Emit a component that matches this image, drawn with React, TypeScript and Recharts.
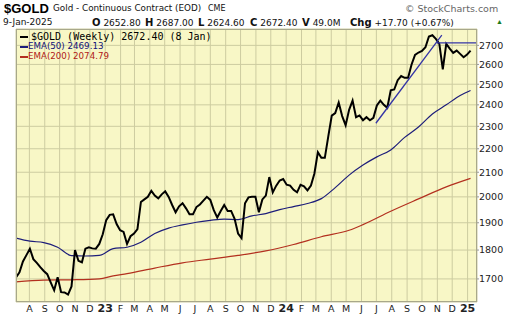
import { CartesianGrid, Line, LineChart, ReferenceLine, XAxis, YAxis } from "recharts";

const DAY = 86400000;
const START = Date.UTC(2022, 6, 5);
const END = Date.UTC(2025, 0, 20);

// weekly closes, one per week from START
const GOLD_WEEKLY = [
  1705, 1722, 1760, 1782, 1805, 1768, 1755, 1740, 1727, 1716,
  1688, 1662, 1706, 1656, 1655, 1648, 1675, 1800, 1762, 1757,
  1805, 1810, 1806, 1805, 1822, 1857, 1910, 1930, 1932, 1895,
  1872, 1866, 1822, 1850, 1860, 1876, 1980, 1990, 2000, 2024,
  2005, 1994, 2010, 2022, 2000, 1968, 1940, 1963, 1975, 1955,
  1932, 1932, 1960, 1970, 1985, 2000, 1988, 1948, 1920, 1945,
  1968, 1945, 1945, 1915, 1860, 1843, 1975, 1998, 2000, 2000,
  1940, 1990, 2005, 2080, 2018, 2045, 2066, 2072, 2049, 2045,
  2028, 2018, 2048, 2042, 2026, 2045, 2095, 2185, 2161, 2161,
  2255, 2349, 2361, 2411, 2347, 2305, 2376, 2420, 2342, 2350,
  2328, 2342, 2328, 2339, 2397, 2420, 2400, 2386, 2470, 2474,
  2520, 2541, 2532, 2532, 2600, 2650, 2662, 2670, 2690, 2748,
  2755, 2735, 2708, 2575, 2708, 2683, 2660, 2672, 2655, 2637,
  2651, 2672.4,
];

const EMA50_DATES = [
  "2022-07-05", "2022-08-02", "2022-08-30", "2022-09-27", "2022-10-25", "2022-11-22",
  "2022-12-20", "2023-01-17", "2023-02-14", "2023-03-14", "2023-04-11", "2023-05-09",
  "2023-06-06", "2023-07-04", "2023-08-01", "2023-08-29", "2023-09-26", "2023-10-24",
  "2023-11-21", "2023-12-19", "2024-01-16", "2024-02-13", "2024-03-12", "2024-04-09",
  "2024-05-07", "2024-06-04", "2024-07-02", "2024-07-30", "2024-08-27", "2024-09-24",
  "2024-10-22", "2024-11-19", "2024-12-17", "2025-01-07",
];
const EMA50 = [
  1843, 1832, 1827, 1810, 1780, 1779,
  1781, 1805, 1810, 1828, 1860, 1880,
  1892, 1902, 1909, 1914, 1912, 1926,
  1935, 1950, 1962, 1974, 1993, 2037,
  2088, 2130, 2165, 2195, 2250, 2297,
  2357, 2400, 2445, 2469.13,
];

const EMA200_DATES = [
  "2022-07-05", "2022-08-30", "2022-10-25", "2022-12-20", "2023-01-17", "2023-02-14",
  "2023-04-11", "2023-06-06", "2023-08-01", "2023-09-26", "2023-11-21", "2024-01-16",
  "2024-03-12", "2024-05-07", "2024-06-04", "2024-07-30", "2024-09-24", "2024-11-19",
  "2025-01-07",
];
const EMA200 = [
  1690, 1696, 1697, 1700, 1710, 1718,
  1737, 1755, 1768, 1781, 1797, 1820,
  1848, 1872, 1893, 1944, 1992, 2040,
  2074.79,
];

const TREND_DATES = ["2024-06-30", "2024-11-10"];
const TREND_PRICES = [2314, 2755];
const RESIST_FROM = "2024-10-31";
const RESIST_PRICE = 2713;

const Y_TICKS = [1700, 1800, 1900, 2000, 2100, 2200, 2300, 2400, 2500, 2600, 2700];
const X_TICK_LABELS = [
  "A", "S", "O", "N", "D", "23", "F", "M", "A", "M", "J", "J", "A", "S", "O",
  "N", "D", "24", "F", "M", "A", "M", "J", "J", "A", "S", "O", "N", "D", "25",
];

const priceData = GOLD_WEEKLY.map((price, i) => ({ t: START + i * 7 * DAY, price }));
const ema50Data = EMA50_DATES.map((d, i) => ({ t: Date.parse(d), v: EMA50[i] }));
const ema200Data = EMA200_DATES.map((d, i) => ({ t: Date.parse(d), v: EMA200[i] }));
const xTicks = X_TICK_LABELS.map((_, i) => Date.UTC(2022, 7 + i, 1));

const FONT = "'DejaVu Sans', Verdana, sans-serif";

const MonthTick = ({ x, y, payload }: any) => {
  const label = X_TICK_LABELS[xTicks.indexOf(payload.value)] ?? "";
  const isYear = /\d/.test(label);
  return (
    <text
      x={x}
      y={y + 10}
      textAnchor="middle"
      fontFamily={FONT}
      fontSize={isYear ? 11 : 9.5}
      fontWeight={isYear ? "bold" : "normal"}
      fill="#222"
    >
      {label}
    </text>
  );
};

const abs = (left: number, top: number, extra: any = {}) => ({
  position: "absolute" as const,
  left,
  top,
  whiteSpace: "nowrap" as const,
  lineHeight: 1,
  ...extra,
});

const stat = (left: number, key: string, value: string) => (
  <span style={abs(left, 18, { fontFamily: FONT, fontSize: 9, color: "#111" })}>
    <b style={{ fontSize: 10 }}>{key}</b> {value}
  </span>
);

export default function App() {
  return (
    <div style={{ position: "absolute", left: 0, top: 0, width: 520, height: 318, background: "#fff", overflow: "hidden" }}>
      <span style={abs(4, 2, { fontFamily: "'Liberation Sans', Arial, sans-serif", fontWeight: "bold", fontSize: 13 })}>$GOLD</span>
      <span style={abs(53, 4, { fontFamily: FONT, fontSize: 8.8, color: "#111" })}>Gold - Continuous Contract (EOD)</span>
      <span style={abs(208, 5, { fontFamily: FONT, fontSize: 8, color: "#111" })}>CME</span>
      <span style={abs(405, 4, { fontFamily: FONT, fontSize: 9.5, color: "#666" })}>© StockCharts.com</span>
      <span style={abs(3, 18, { fontFamily: FONT, fontSize: 9, color: "#111" })}>9-Jan-2025</span>
      {stat(92, "O", "2652.80")}
      {stat(145, "H", "2687.00")}
      {stat(198, "L", "2624.60")}
      {stat(250, "C", "2672.40")}
      {stat(302, "V", "49.0M")}
      {stat(350, "Chg", "+17.70 (+0.67%)")}
      <span style={abs(496, 19, { fontSize: 7, color: "#1a7a1a" })}>▲</span>

      <div style={{ position: "absolute", left: 0, top: 0 }}>
        <LineChart width={520} height={318} data={priceData} margin={{ top: 29, right: 0, bottom: 0, left: 16 }}>
          <CartesianGrid stroke="#cdcca0" fill="#f8f7c6" />
          <XAxis
            dataKey="t"
            type="number"
            domain={[START, END]}
            ticks={xTicks}
            interval={0}
            tick={<MonthTick />}
            tickLine={false}
            axisLine={false}
            tickSize={0}
            tickMargin={0}
            height={16}
            allowDataOverflow
          />
          <YAxis
            orientation="right"
            scale="log"
            domain={[1624, 2789]}
            ticks={Y_TICKS}
            interval={0}
            allowDataOverflow
            axisLine={false}
            tickLine={{ stroke: "#999" }}
            tickSize={2}
            tickMargin={0}
            width={43}
            tick={{ fontSize: 9.5, fontFamily: FONT, fill: "#222", textAnchor: "start" }}
          />
          <Line data={ema200Data} dataKey="v" type="monotone" stroke="#b3301f" strokeWidth={1.2} dot={false} isAnimationActive={false} />
          <Line data={ema50Data} dataKey="v" type="monotone" stroke="#1d1d7a" strokeWidth={1.2} dot={false} isAnimationActive={false} />
          <Line dataKey="price" type="linear" stroke="#000" strokeWidth={2} dot={false} isAnimationActive={false} />
          <ReferenceLine
            segment={[
              { x: Date.parse(TREND_DATES[0]), y: TREND_PRICES[0] },
              { x: Date.parse(TREND_DATES[1]), y: TREND_PRICES[1] },
            ]}
            stroke="#3434a6"
            strokeWidth={1.3}
            ifOverflow="visible"
          />
          <ReferenceLine
            segment={[
              { x: Date.parse(RESIST_FROM), y: RESIST_PRICE },
              { x: END, y: RESIST_PRICE },
            ]}
            stroke="#3434a6"
            strokeWidth={1.3}
            ifOverflow="visible"
          />
        </LineChart>
      </div>

      <div style={{ position: "absolute", left: 16, top: 29, width: 461, height: 273, border: "1px solid #a8a88a", boxSizing: "border-box", pointerEvents: "none" }} />

      <div style={abs(20, 36, { width: 8, height: 2, background: "#000" })} />
      <span style={abs(31, 32, { fontFamily: "'DejaVu Sans Mono', monospace", fontSize: 10, color: "#000" })}>$GOLD (Weekly) 2672.40 (8 Jan)</span>
      <div style={abs(20, 46, { width: 8, height: 2, background: "#1d1d7a" })} />
      <span style={abs(28, 42, { fontFamily: FONT, fontSize: 8.7, color: "#10107a" })}>EMA(50) 2469.13</span>
      <div style={abs(20, 56, { width: 8, height: 2, background: "#b3301f" })} />
      <span style={abs(28, 52, { fontFamily: FONT, fontSize: 8.7, color: "#b01818" })}>EMA(200) 2074.79</span>
    </div>
  );
}
